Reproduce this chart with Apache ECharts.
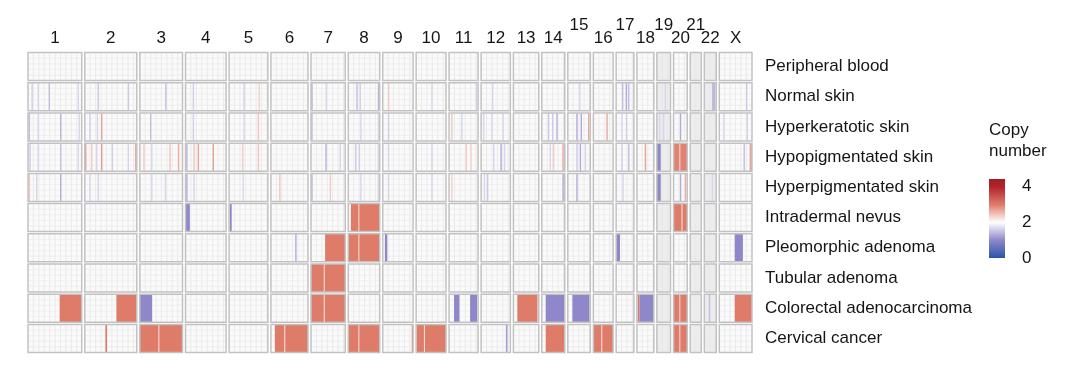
<!DOCTYPE html>
<html>
<head>
<meta charset="utf-8">
<script src="https://cdn.jsdelivr.net/npm/echarts@6/dist/echarts.min.js"></script>
<style>
html,body{margin:0;padding:0;background:#ffffff;}
#chart{width:1080px;height:371px;}
</style>
</head>
<body>
<div id="chart"></div>
<script>
// ---------------- DATA ----------------
const chromosomes = ['1','2','3','4','5','6','7','8','9','10','11','12','13','14','15','16','17','18','19','20','21','22','X'];
// approximate chromosome lengths (Mb) as drawn
const chromLengths = [248,240,197,187,179,171,158,145,140,138,134,135,117,106,104,91,82,78,63,63,51,55,151];
const samples = ['Peripheral blood','Normal skin','Hyperkeratotic skin','Hypopigmentated skin','Hyperpigmentated skin',
  'Intradermal nevus','Pleomorphic adenoma','Tubular adenoma','Colorectal adenocarcinoma','Cervical cancer'];

// segments: [chromosome, start Mb, end Mb, copy number]
const peripheralBlood = [];
const normalSkin = [
  ['1',16,20,1.6],['1',44,48,1.65],['1',95,99,1.45],['1',229,233,1.65],
  ['2',59,63,1.55],['2',198,202,1.55],['3',117,121,1.45],['4',33,37,1.6],
  ['5',66,70,1.6],['5',136,140,2.35],['7',1,5,1.3],['7',67,71,1.65],
  ['8',37,41,1.45],['8',52,56,1.6],['8',136,140,1.4],['9',24,28,2.4],
  ['10',70,74,1.65],['11',123,127,1.6],['12',50,54,1.65],['15',52,56,1.65],
  ['17',27,31,1.45],['17',44,48,1.3],['17',55,59,1.45],['19',36,40,1.65],
  ['22',36,50,1.4],['X',123,127,1.55]
];
const hyperkeratoticSkin = [
  ['1',3,7,1.45],['1',44,48,1.65],['1',148,152,1.35],['1',233,237,1.65],
  ['2',21,25,1.6],['2',55,59,1.65],['2',75,79,2.7],['3',47,51,1.45],
  ['4',33,37,1.6],['5',66,70,1.65],['5',132,136,2.45],['7',1,5,1.4],
  ['8',55,59,1.65],['8',136,140,1.65],['9',24,28,1.6],['11',10,14,2.4],
  ['11',56,60,1.65],['12',9,13,1.65],['12',47,51,1.65],['12',98,102,1.65],
  ['14',28,32,1.55],['14',47,51,1.55],['14',67,71,1.35],['15',39,43,1.3],
  ['15',59,63,1.3],['15',93,97,2.65],['16',60,64,2.65],['17',24,28,1.65],
  ['17',45,49,1.6],['19',10,14,1.65],['19',28,32,1.65],['20',29,33,1.3],
  ['X',18,22,1.65],['X',126,130,1.6]
];
const hypopigmentatedSkin = [
  ['1',6,10,1.55],['1',44,48,1.65],['1',148,152,1.45],['1',229,233,1.65],
  ['2',1,5,2.75],['2',29,33,2.4],['2',52,56,1.65],['2',75,79,2.75],['2',124,128,1.6],
  ['2',198,202,1.65],['2',232,236,2.65],['3',16,20,2.4],['3',52,56,1.65],['3',136,140,2.45],
  ['3',176,180,2.6],['4',3,7,1.4],['4',36,40,2.45],['4',56,60,2.7],['4',125,129,2.7],
  ['5',60,64,2.4],['5',132,136,2.45],['7',66,70,1.35],['7',132,136,1.65],
  ['8',31,35,1.55],['8',48,54,1.6],['8',135,139,1.65],['9',24,28,1.65],['10',70,74,1.65],
  ['11',76,80,2.4],['11',98,102,2.35],['12',55,59,1.65],['12',89,93,1.3],['12',105,109,1.65],
  ['14',36,40,1.65],['14',51,55,2.4],['14',95,99,2.65],['15',39,43,1.55],['15',55,59,1.3],
  ['15',78,82,1.65],['17',24,28,1.6],['17',55,59,1.45],['18',36,40,2.7],['19',0,18,1.0],
  ['20',0,27,2.95],['20',31,63,2.95],['X',112,116,1.45],['X',140,151,2.7]
];
const hyperpigmentatedSkin = [
  ['1',3,7,2.45],['1',37,41,1.65],['1',148,152,1.3],['2',21,25,1.65],['2',59,63,1.65],
  ['3',52,56,1.65],['3',115,119,1.65],['4',3,7,1.3],['4',36,40,1.65],['5',62,66,1.7],
  ['6',38,42,2.45],['7',1,5,1.35],['7',86,90,2.4],['8',55,59,1.65],['8',135,139,1.65],
  ['9',24,28,1.65],['10',70,74,1.65],['11',10,14,2.35],['12',12,16,1.65],['12',27,31,1.55],
  ['14',95,99,1.3],['15',39,43,1.3],['17',29,33,1.65],['19',0,18,1.0],
  ['20',29,33,1.3],['20',52,56,2.6],['22',34,38,1.65]
];
const intradermalNevus = [
  ['4',0,20,1.0],['5',3,12,1.0],['8',12,47,3],['8',51,145,3],['20',0,37,3],['20',41,63,3]
];
const pleomorphicAdenoma = [
  ['6',112,116,1.3],['7',65,158,3],['8',0,47,3],['8',51,145,3],['9',10,21,1.0],
  ['17',0,18,1.0],['X',71,109,1.0]
];
const tubularAdenoma = [
  ['7',0,59,3],['7',63,158,3]
];
const colorectalAdenocarcinoma = [
  ['1',146,248,3],['2',146,240,3],['3',0,57,1.0],['7',0,59,3],['7',63,158,3],
  ['11',23,48,1.0],['11',97,130,1.0],['13',18,111,3],['14',18,106,1.0],['15',21,100,1.0],
  ['18',3,12,3],['18',12,77,1.0],['20',0,27,3],['20',31,63,3],['22',20,28,1.5],['X',71,151,3]
];
const cervicalCancer = [
  ['2',95,103,3],['3',0,86,3],['3',90,197,3],['6',18,62,3],['6',66,171,3],['8',0,47,3],
  ['8',51,145,3],['9',134,140,3],['10',3,36,3],['10',40,138,3],['12',114,122,1.2],
  ['14',18,106,3],['16',0,37,3],['16',41,91,3],['20',0,27,3],['20',31,63,3]
];
const sampleSegments = [peripheralBlood, normalSkin, hyperkeratoticSkin, hypopigmentatedSkin,
  hyperpigmentatedSkin, intradermalNevus, pleomorphicAdenoma, tubularAdenoma,
  colorectalAdenocarcinoma, cervicalCancer];

const colorbarTicks = [0, 2, 4];
const copyNumberRange = [0, 4];

// ---------------- LAYOUT / STYLE ----------------
const GAP = 14;               // genomic spacer between chromosome panels
const INSET = 1.1;            // px between stacked panels
const GRID_STEP = 25;         // Mb between faint grid lines
const raisedLabels = ['15','17','19','21'];
const shadedPanels = ['19','21','22'];
const FONT = "'Liberation Sans', Arial, sans-serif";
const cnColors = ['#2a55a6','#8e88ca','#ffffff','#df7b69','#b2232b'];
const COLORBAR_MAX = 4.43;

const offsets = [];
let acc = 0;
chromLengths.forEach((len, i) => { offsets.push(acc); acc += len + (i < chromLengths.length - 1 ? GAP : 0); });
const TOTAL = acc;

const centersLow = [], centersHigh = [];
const labelAt = {};
chromosomes.forEach((c, i) => {
  const mid = offsets[i] + chromLengths[i] / 2;
  labelAt[mid.toFixed(2)] = c;
  (raisedLabels.includes(c) ? centersHigh : centersLow).push(mid);
});

const frameData = [];
samples.forEach((s, r) => chromosomes.forEach((c, i) => {
  frameData.push([offsets[i], offsets[i] + chromLengths[i], r, i]);
}));

const segData = [];
sampleSegments.forEach((segs, r) => segs.forEach(([c, s, e, cn]) => {
  const i = chromosomes.indexOf(c);
  segData.push([offsets[i] + s, offsets[i] + e, r, cn]);
}));

function panelBox(api) {
  const r = api.value(2);
  const p0 = api.coord([api.value(0), r]);
  const p1 = api.coord([api.value(1), r]);
  const band = api.size([0, 1])[1];
  const h = band - 2 * INSET;
  return { x: p0[0], y: p0[1] - h / 2, w: p1[0] - p0[0], h: h, r: r };
}

function renderFrame(params, api) {
  const b = panelBox(api);
  const ci = api.value(3);
  const children = [{
    type: 'rect', shape: { x: b.x, y: b.y, width: b.w, height: b.h },
    style: { fill: shadedPanels.includes(chromosomes[ci]) ? '#ededed' : '#fafafa' }
  }];
  const x0 = api.value(0), len = chromLengths[ci];
  for (let m = GRID_STEP; m < len - 2; m += GRID_STEP) {
    const px = api.coord([x0 + m, b.r])[0];
    children.push({ type: 'line', shape: { x1: px, y1: b.y, x2: px, y2: b.y + b.h },
      style: { stroke: '#e6e6e6', lineWidth: 0.8 } });
  }
  for (let k = 1; k < 5; k++) {
    const py = b.y + b.h * k / 5;
    children.push({ type: 'line', shape: { x1: b.x, y1: py, x2: b.x + b.w, y2: py },
      style: { stroke: '#ececec', lineWidth: 0.8 } });
  }
  return { type: 'group', children: children };
}

function renderBorder(params, api) {
  const b = panelBox(api);
  return { type: 'rect', shape: { x: b.x, y: b.y, width: b.w, height: b.h },
    style: { fill: null, stroke: '#c2c2c2', lineWidth: 1.5 } };
}

function renderSeg(params, api) {
  const b = panelBox(api);
  return { type: 'rect', shape: { x: b.x, y: b.y, width: Math.max(b.w, 1.4), height: b.h },
    style: { fill: api.visual('color') } };
}

function renderColorbar(params, api) {
  const p0 = api.coord([0, api.value(1)]);
  const p1 = api.coord([0, api.value(2)]);
  const w = api.size([1, 0])[0];
  const mx = api.value(2);
  const stops = [{ offset: 0, color: '#a51c25' }];
  for (let v = cnColors.length - 1; v >= 0; v--) {
    stops.push({ offset: (mx - v) / mx, color: cnColors[v] });
  }
  return { type: 'rect', shape: { x: p0[0] - w / 2, y: p1[1], width: w, height: p0[1] - p1[1] },
    style: { fill: new echarts.graphic.LinearGradient(0, 0, 0, 1, stops) } };
}

const chart = echarts.init(document.getElementById('chart'), null, { renderer: 'canvas' });
const labelFmt = v => labelAt[Number(v).toFixed(2)] || '';

chart.setOption({
  animation: false,
  backgroundColor: '#ffffff',
  textStyle: { fontFamily: FONT },
  title: {
    text: 'Copy\nnumber', left: 989, top: 120, padding: 0,
    textStyle: { fontFamily: FONT, fontSize: 17, fontWeight: 'normal', color: '#151515', lineHeight: 21 }
  },
  grid: [
    { left: 28, top: 51.5, width: 724, height: 302 },
    { left: 989, top: 179, width: 16, height: 79 }
  ],
  xAxis: [
    { type: 'value', gridIndex: 0, min: 0, max: TOTAL, position: 'top',
      axisLine: { show: false }, axisTick: { show: false }, splitLine: { show: false },
      axisLabel: { customValues: centersLow, formatter: labelFmt, fontSize: 17, color: '#151515', margin: 5, fontFamily: FONT } },
    { type: 'value', gridIndex: 0, min: 0, max: TOTAL, position: 'top', offset: 13,
      axisLine: { show: false }, axisTick: { show: false }, splitLine: { show: false },
      axisLabel: { customValues: centersHigh, formatter: labelFmt, fontSize: 17, color: '#151515', margin: 5, fontFamily: FONT } },
    { type: 'category', gridIndex: 1, data: ['cn'], show: false }
  ],
  yAxis: [
    { type: 'category', gridIndex: 0, data: samples, inverse: true, position: 'right',
      axisLine: { show: false }, axisTick: { show: false }, splitLine: { show: false },
      axisLabel: { fontSize: 17, color: '#151515', margin: 13, fontFamily: FONT } },
    { type: 'value', gridIndex: 1, min: copyNumberRange[0], max: COLORBAR_MAX, interval: 2, position: 'right',
      axisLine: { show: false }, axisTick: { show: false }, splitLine: { show: false },
      axisLabel: { fontSize: 17, color: '#151515', margin: 17, fontFamily: FONT,
        formatter: v => colorbarTicks.includes(v) ? String(v) : '' } }
  ],
  visualMap: {
    show: false, type: 'continuous', min: copyNumberRange[0], max: copyNumberRange[1],
    dimension: 3, seriesIndex: 1, inRange: { color: cnColors }
  },
  series: [
    { type: 'custom', xAxisIndex: 0, yAxisIndex: 0, renderItem: renderFrame, data: frameData,
      encode: { x: [0, 1], y: 2 }, silent: true, z: 1 },
    { type: 'custom', xAxisIndex: 0, yAxisIndex: 0, renderItem: renderSeg, data: segData,
      encode: { x: [0, 1], y: 2 }, silent: true, z: 2 },
    { type: 'custom', xAxisIndex: 0, yAxisIndex: 0, renderItem: renderBorder, data: frameData,
      encode: { x: [0, 1], y: 2 }, silent: true, z: 3 },
    { type: 'custom', xAxisIndex: 2, yAxisIndex: 1, renderItem: renderColorbar,
      data: [[0, copyNumberRange[0], COLORBAR_MAX]], encode: { x: 0, y: [1, 2] }, silent: true, z: 1 }
  ]
});
</script>
</body>
</html>
